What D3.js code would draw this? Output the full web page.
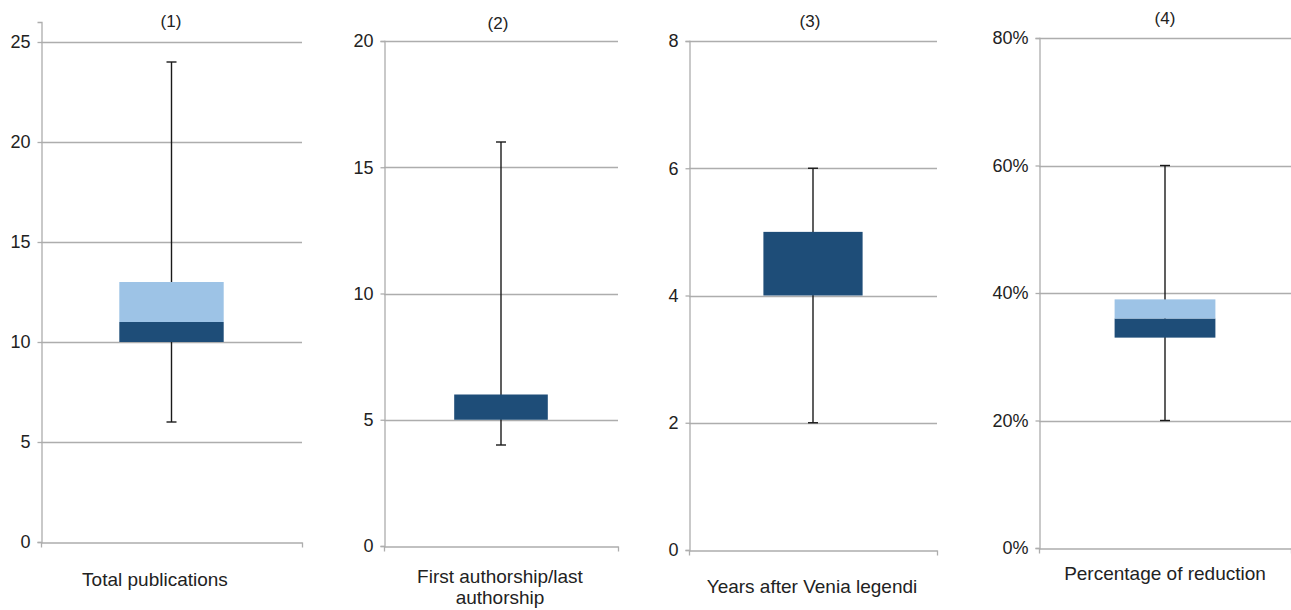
<!DOCTYPE html>
<html>
<head>
<meta charset="utf-8">
<script src="https://cdn.jsdelivr.net/npm/d3@7"></script>
<style>
  html, body { margin: 0; padding: 0; background: #fff; }
  svg { display: block; font-family: "Liberation Sans", Arial, Helvetica, sans-serif; }
</style>
</head>
<body>
<svg id="chart" width="1291" height="610"></svg>
<script>
// ---- data ----
const panelTitles = ["(1)", "(2)", "(3)", "(4)"];
const categories = ["Total publications", "First authorship/last authorship", "Years after Venia legendi", "Percentage of reduction"];
const lowerQuartile = [10, 5, 4, 0.33];
const medianValue = [11, 6, 5, 0.36];
const upperQuartile = [13, 6, 5, 0.39];
const whiskerMin = [6, 4, 2, 0.20];
const whiskerMax = [24, 16, 6, 0.60];
const tickValues = [
  [0, 5, 10, 15, 20, 25],
  [0, 5, 10, 15, 20],
  [0, 2, 4, 6, 8],
  [0, 0.2, 0.4, 0.6, 0.8]
];
const axisTop = [26, 20, 8, 0.8];
const tickFormats = [d3.format("d"), d3.format("d"), d3.format("d"), d3.format(".0%")];

// ---- layout (pixel geometry, not data) ----
const layout = [
  { left: 41,   right: 302,  top: 22,  bottom: 542, titleX: 171,  titleY: 27, labelX: 155,  labelY: 586 },
  { left: 384,  right: 618,  top: 41,  bottom: 546, titleX: 498,  titleY: 29, labelX: 500,  labelY: 583 },
  { left: 689,  right: 937,  top: 41,  bottom: 550, titleX: 810,  titleY: 27, labelX: 812,  labelY: 593 },
  { left: 1039, right: 1291, top: 38,  bottom: 548, titleX: 1165, titleY: 24, labelX: 1165, labelY: 580 }
];

const svg = d3.select("#chart");
const gridColor = "#adadad";
const textColor = "#222";
const darkFill = "#1e4d78";
const lightFill = "#9dc3e6";

categories.forEach((cat, i) => {
  const L = layout[i];
  const g = svg.append("g");
  const y = d3.scaleLinear().domain([0, axisTop[i]]).range([L.bottom, L.top]);
  const x = d3.scaleBand().domain([cat]).range([L.left, L.right]).paddingInner(0).paddingOuter(0.75);

  // gridlines
  g.append("g").selectAll("line")
    .data(tickValues[i].filter(v => v !== 0))
    .join("line")
    .attr("x1", L.left).attr("x2", L.right)
    .attr("y1", d => Math.round(y(d)) + 0.5).attr("y2", d => Math.round(y(d)) + 0.5)
    .attr("stroke", gridColor).attr("stroke-width", 1.3);

  // left axis
  const yAxis = d3.axisLeft(y).tickValues(tickValues[i]).tickFormat(tickFormats[i]).tickSize(4).tickPadding(7);
  const ya = g.append("g").attr("transform", `translate(${L.left + 0.5},0)`).call(yAxis);
  ya.select(".domain").attr("stroke", gridColor).attr("stroke-width", 1.3);
  ya.selectAll(".tick line").attr("stroke", gridColor).attr("stroke-width", 1.3);
  ya.selectAll(".tick text").attr("fill", textColor).style("font-size", "18px")
    .style("font-family", '"Liberation Sans", Arial, sans-serif');

  // bottom axis line with end ticks
  const xAxis = d3.axisBottom(d3.scaleLinear().domain([0, 1]).range([L.left, L.right]))
    .tickValues([0, 1]).tickSize(5).tickSizeOuter(0).tickFormat("");
  const xa = g.append("g").attr("transform", `translate(0,${Math.round(y(0)) + 0.5})`).call(xAxis);
  xa.select(".domain").attr("stroke", gridColor).attr("stroke-width", 1.3);
  xa.selectAll(".tick line").attr("stroke", gridColor).attr("stroke-width", 1.3);

  const cx = x(cat) + x.bandwidth() / 2;

  // whisker
  g.append("line")
    .attr("x1", cx).attr("x2", cx)
    .attr("y1", y(whiskerMin[i])).attr("y2", y(whiskerMax[i]))
    .attr("stroke", "#1a1a1a").attr("stroke-width", 1.4);
  g.selectAll(".cap").data([whiskerMin[i], whiskerMax[i]]).join("line")
    .attr("x1", cx - 5).attr("x2", cx + 5)
    .attr("y1", d => y(d)).attr("y2", d => y(d))
    .attr("stroke", "#1a1a1a").attr("stroke-width", 1.4);

  // box: dark lower part (Q1 -> median), light upper part (median -> Q3)
  g.append("rect")
    .attr("x", x(cat)).attr("width", x.bandwidth())
    .attr("y", y(medianValue[i])).attr("height", y(lowerQuartile[i]) - y(medianValue[i]))
    .attr("fill", darkFill);
  if (upperQuartile[i] > medianValue[i]) {
    g.append("rect")
      .attr("x", x(cat)).attr("width", x.bandwidth())
      .attr("y", y(upperQuartile[i])).attr("height", y(medianValue[i]) - y(upperQuartile[i]))
      .attr("fill", lightFill);
  }

  // panel title
  g.append("text").attr("x", L.titleX).attr("y", L.titleY)
    .attr("text-anchor", "middle").attr("fill", textColor)
    .style("font-size", "17px").text(panelTitles[i]);

  // category label with wrapping
  const label = g.append("text").attr("x", L.labelX).attr("y", L.labelY)
    .attr("text-anchor", "middle").attr("fill", textColor).style("font-size", "19px");
  const words = cat.split(" ");
  let line = [];
  let tspan = label.append("tspan").attr("x", L.labelX).attr("dy", 0);
  words.forEach(w => {
    line.push(w);
    tspan.text(line.join(" "));
    if (tspan.node().getComputedTextLength() > 225 && line.length > 1) {
      line.pop();
      tspan.text(line.join(" "));
      line = [w];
      tspan = label.append("tspan").attr("x", L.labelX).attr("dy", 21).text(w);
    }
  });
});
</script>
</body>
</html>
